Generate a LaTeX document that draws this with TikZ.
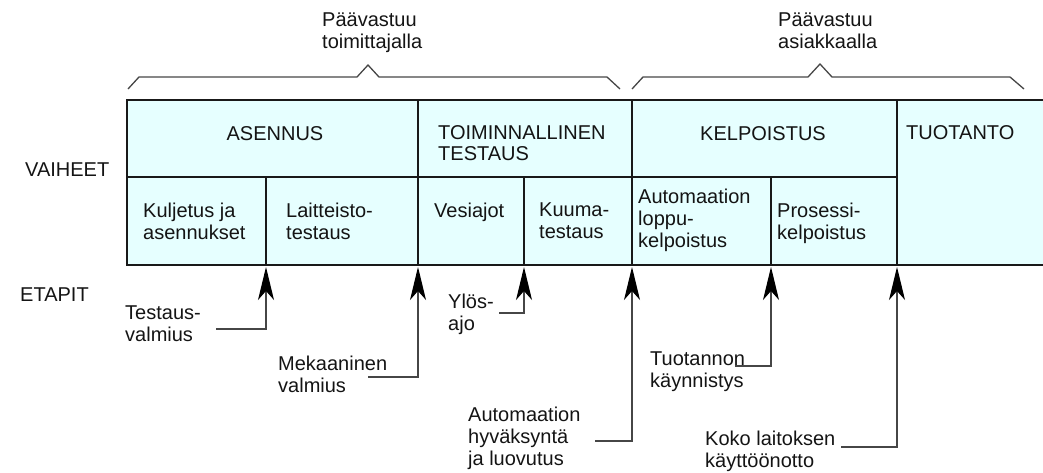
\documentclass[tikz,border=0pt]{standalone}
\usepackage{fontspec}
\setmainfont{Liberation Sans}
\usetikzlibrary{arrows.meta}
\definecolor{cellfill}{RGB}{230,255,255}
\definecolor{inkgray}{RGB}{70,70,70}
\definecolor{inktext}{RGB}{20,20,20}
\begin{document}
\begin{tikzpicture}[x=1pt,y=-1pt,
  txt/.style={font=\fontsize{20}{21.8}\selectfont, inner sep=0pt, align=left, anchor=north west, text=inktext},
  grid/.style={line width=2pt, draw=black!90},
  brace/.style={line width=1.3pt, draw=inkgray, line join=miter},
  conn/.style={line width=1.2pt, draw=inkgray,
    -{Stealth[length=33pt,width=16pt,inset=9pt,color=black]}},
]
\useasboundingbox (0,0) rectangle (1043,472);

% table of phases
\fill[cellfill] (127,100) rectangle (1043,265);
\draw[grid] (1043,100) -- (127,100) -- (127,265) -- (1043,265);
\draw[grid] (127,177) -- (897,177);
\foreach \x in {418,632,897} \draw[grid] (\x,100) -- (\x,265);
\foreach \x in {266,524,771} \draw[grid] (\x,177) -- (\x,265);

% responsibility braces
\draw[brace] (128,89) -- (139,77) -- (357,77) -- (368,65) -- (379,77) -- (607,77) -- (620,89);
\draw[brace] (632,89) -- (643,77) -- (808,77) -- (820,64) -- (832,77) -- (1010,77) -- (1024,89);
\node[txt] (vs1) at (322,13) {Päävastuu\\toimittajalla};
\node[txt] (vs2) at (778,13) {Päävastuu\\asiakkaalla};

% row titles
\node[txt] (vaiheet) at (25,163) {VAIHEET};
\node[txt] (etapit) at (20,288) {ETAPIT};

% phases
\node[txt, anchor=north] (asennus) at (275,126) {ASENNUS};
\node[txt] (toim) at (438,125) {TOIMINNALLINEN\\TESTAUS};
\node[txt, anchor=north] (kelp) at (763,126) {KELPOISTUS};
\node[txt] (tuot) at (906,125) {TUOTANTO};

% sub-phases
\node[txt] (kulj) at (143,203) {Kuljetus ja\\asennukset};
\node[txt] (lait) at (286,203) {Laitteisto-\\testaus};
\node[txt] (vesi) at (434,203) {Vesiajot};
\node[txt] (kuuma) at (539,203) {Kuuma-\\testaus};
\node[txt] (autol) at (638,189) {Automaation\\loppu-\\kelpoistus};
\node[txt] (pros) at (777,203) {Prosessi-\\kelpoistus};

% milestones
\node[txt] (e1) at (125,306) {Testaus-\\valmius};
\node[txt] (e2) at (278,356) {Mekaaninen\\valmius};
\node[txt] (e3) at (448,294) {Ylös-\\ajo};
\node[txt] (e4) at (468,407) {Automaation\\hyväksyntä\\ja luovutus};
\node[txt] (e5) at (650,352) {Tuotannon\\käynnistys};
\node[txt] (e6) at (705,431) {Koko laitoksen\\käyttöönotto};

\coordinate (m1) at (266,267);
\coordinate (m2) at (418,267);
\coordinate (m3) at (524,267);
\coordinate (m4) at (632,267);
\coordinate (m5) at (771,267);
\coordinate (m6) at (897,267);

\coordinate (s1) at (216,329);
\coordinate (s2) at (368,377);
\coordinate (s3) at (499,313);
\coordinate (s4) at (595,441);
\coordinate (s5) at (735,366);
\coordinate (s6) at (841,447);

\foreach \i in {1,...,6} \draw[conn] (s\i) -| (m\i);
\end{tikzpicture}
\end{document}
